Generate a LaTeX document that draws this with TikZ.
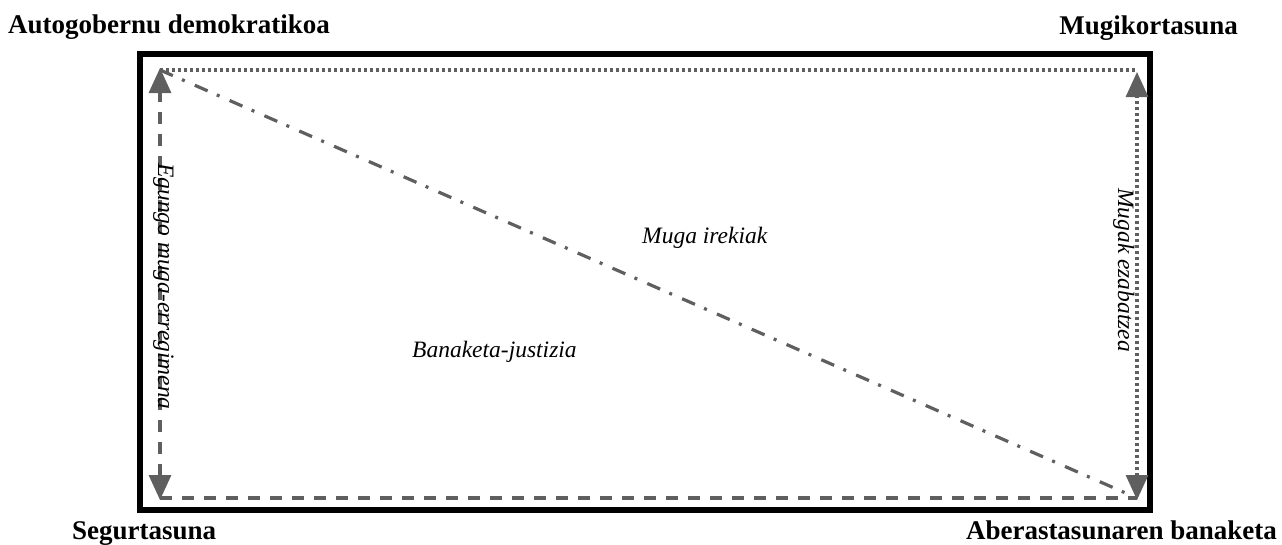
\documentclass[tikz,border=0pt]{standalone}
\usepackage{fontspec}
\setmainfont{Liberation Serif}
\usetikzlibrary{arrows.meta}
\definecolor{lineg}{HTML}{5F5F5F}
\tikzset{
  frame/.style={draw=black, line width=5.5pt},
  conn/.style={draw=lineg, line width=3.2pt},
  dashline/.style={conn, dash pattern=on 12pt off 10pt},
  dotline/.style={conn, dash pattern=on 3pt off 3pt},
  dashdotline/.style={conn, dash pattern=on 14pt off 10pt on 3pt off 11pt},
  tipboth/.style={{Triangle[width=22pt,length=25pt,fill=lineg]}-{Triangle[width=22pt,length=25pt,fill=lineg]}},
  corner/.style={inner sep=0pt, font=\fontsize{27}{30}\selectfont\bfseries},
  edgelabel/.style={inner sep=0pt, font=\fontsize{23.5}{27}\selectfont\itshape},
}
\begin{document}
\begin{tikzpicture}[x=1pt,y=-1pt]
\useasboundingbox (0,0) rectangle (1282,544);
\draw[frame] (140,54) rectangle (1150,510);
\coordinate (TL) at (160,70);
\coordinate (TR) at (1137,70);
\coordinate (BL) at (160,498);
\coordinate (BR) at (1137,498);
\coordinate (TLa) at (160,68);
\coordinate (BLa) at (160,500);
\coordinate (TRa) at (1137,72);
\coordinate (BRa) at (1137,500);
% connectors
\draw[dotline] (TL) -- (TR);
\draw[dashline] (BL) -- (BR);
\draw[dashdotline] (TL) -- (BR);
\draw[dashline, tipboth] (BLa) -- (TLa);
\draw[dotline, tipboth] (BRa) -- (TRa);
% corner labels
\node[corner, anchor=base west] (auto) at (8,33) {Autogobernu demokratikoa};
\node[corner, anchor=base east] (mugi) at (1238,34) {Mugikortasuna};
\node[corner, anchor=base west] (segu) at (72,539) {Segurtasuna};
\node[corner, anchor=base east] (aber) at (1277,539) {Aberastasunaren banaketa};
% edge labels
\node[edgelabel, anchor=base west] (irek) at (642,243) {Muga irekiak};
\node[edgelabel, anchor=base west] (bana) at (412,357) {Banaketa-justizia};
\node[edgelabel, rotate=-90, anchor=base west] (egun) at (158,163) {Egungo muga-erregimena};
\node[edgelabel, rotate=-90, anchor=base west] (ezab) at (1118,188) {Mugak ezabatzea};
\end{tikzpicture}
\end{document}
